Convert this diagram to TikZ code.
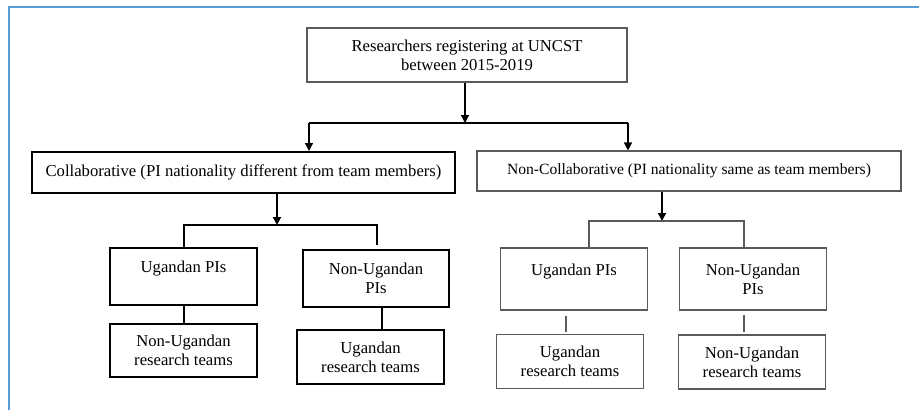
\documentclass[tikz,border=0pt]{standalone}
\usepackage{fontspec}
\setmainfont{Liberation Serif}
\usetikzlibrary{positioning, arrows.meta}
\definecolor{framblue}{RGB}{91,155,213}
\definecolor{boxgray}{RGB}{90,90,90}

\begin{document}
\begin{tikzpicture}[
    x=0.75pt, y=-0.75pt,
    >={Triangle[length=6pt,width=6pt]},
    font=\fontsize{12.5}{14.5}\selectfont,
    every node/.style={inner sep=0pt, align=center},
    boldbox/.style={draw=black, line width=1.5pt},
    thinbox/.style={draw=boxgray, line width=0.8pt},
    boldline/.style={black, line width=1.5pt},
    thinline/.style={boxgray, line width=0.8pt}
]
\useasboundingbox (0,0) rectangle (919,410);
% frame (only top and left edges show)
\draw[framblue, line width=1.5pt] (919,7) -- (9,7) -- (9,410);

% boxes
\node[thinbox, minimum width=240pt, minimum height=40.5pt] (reg) at (467,55)
    {Researchers registering at UNCST\\between 2015-2019};
\node[boldbox, minimum width=317pt, minimum height=30.75pt] (collab) at (243.5,172.5)
    {Collaborative (PI nationality different from team members)};
\node[thinbox, minimum width=318pt, minimum height=30pt,
      font=\fontsize{11.7}{14}\selectfont] (noncollab) at (689,171)
    {Non-Collaborative (PI nationality same as team members)};

\node[boldbox, minimum width=110pt, minimum height=43pt] (cugpi) at (183.5,276.5)
    {Ugandan PIs\\\mbox{}};
\node[boldbox, minimum width=110pt, minimum height=43pt] (cnonpi) at (376,278.5)
    {Non-Ugandan\\PIs};
\node[boldbox, minimum width=110pt, minimum height=40pt] (cnonteam) at (183.5,350.5)
    {Non-Ugandan\\research teams};
\node[boldbox, minimum width=110pt, minimum height=40.5pt] (cugteam) at (370.5,357)
    {Ugandan\\research teams};

\node[thinbox, minimum width=110pt, minimum height=46.5pt] (nugpi) at (574,279)
    {Ugandan PIs\\\mbox{}};
\node[thinbox, minimum width=110pt, minimum height=46.5pt] (nnonpi) at (753,279)
    {Non-Ugandan\\PIs};
\node[thinbox, minimum width=110pt, minimum height=41pt] (nugteam) at (570,361.5)
    {Ugandan\\research teams};
\node[thinbox, minimum width=110pt, minimum height=40.5pt] (nnonteam) at (752,362)
    {Non-Ugandan\\research teams};

% split points
\coordinate (top) at (465,123);
\coordinate (topl) at (309,123);
\coordinate (topr) at (628,123);
\coordinate (cmid) at (277,225);
\coordinate (cl) at (184,225);
\coordinate (cr) at (377,225);
\coordinate (nmid) at (662,221);
\coordinate (nl) at (589,221);
\coordinate (nr) at (744,221);

% top split
\draw[->, line width=1pt] (reg.south -| top) -- (top);
\draw[line width=1pt] (topl) -- (topr);
\draw[->, line width=1pt] (topl) -- (topl |- collab.north);
\draw[->, line width=1pt] (topr) -- (topr |- noncollab.north);

% collaborative branch
\draw[->, boldline] (collab.south -| cmid) -- (cmid);
\draw[boldline] (cl |- cugpi.north) -- (cl) -- (cr) -- ++(0,20);
\draw[boldline] (cugpi.south -| cl) -- (cl |- cnonteam.north);
\draw[boldline] (cnonpi.south -| 382,0) -- (cugteam.north -| 382,0);

% non-collaborative branch
\draw[->, line width=1pt] (noncollab.south -| nmid) -- (nmid);
\draw[thinline] (nl |- nugpi.north) -- (nl) -- (nr) -- (nr |- nnonpi.north);
\draw[thinline, shorten <=4pt, shorten >=1.5pt] (nugpi.south -| 566,0) -- (nugteam.north -| 566,0);
\draw[thinline, shorten <=3pt, shorten >=2pt] (nnonpi.south -| nr) -- (nnonteam.north -| nr);
\end{tikzpicture}
\end{document}
